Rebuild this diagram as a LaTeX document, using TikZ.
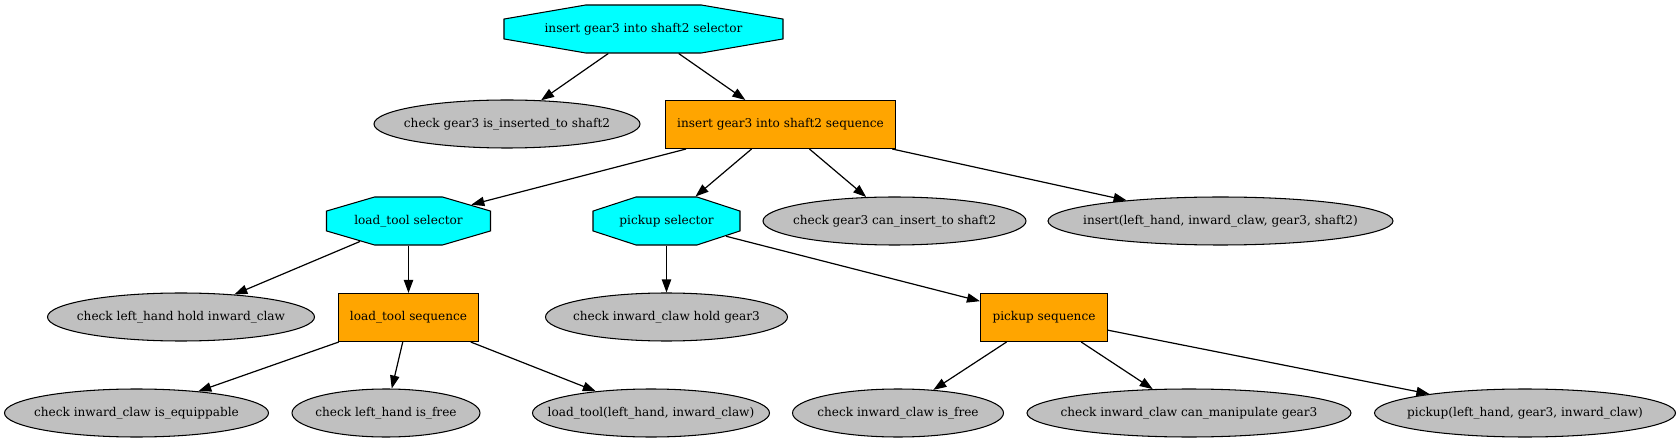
\documentclass[tikz,border=0pt]{standalone}
\usepackage{fontspec}
\setmainfont{DejaVu Serif}
\usetikzlibrary{shapes.geometric,arrows.meta}
\definecolor{selcyan}{RGB}{0,255,255}
\definecolor{seqorange}{RGB}{255,165,0}
\definecolor{condgray}{RGB}{192,192,192}
\tikzset{
  base/.style={line width=1.05pt, inner sep=0pt, font=\fontsize{12.1pt}{14pt}\selectfont},
  octshape/.style={base, draw, fill=selcyan, regular polygon, regular polygon sides=8, minimum size=51.96pt},
  lbl/.style={inner sep=0pt, font=\fontsize{12.1pt}{14pt}\selectfont},
  seqbox/.style={base, draw, fill=seqorange, rectangle, minimum height=48pt},
  cond/.style={base, draw, fill=condgray, ellipse, minimum height=48pt},
  link/.style={line width=1.2pt, -{Triangle[length=13pt,width=9.3pt]}},
}
\newcommand\octnode[5]{%
  \begin{scope}[shift={(#2,#3)}, xscale=#4/48]
    \node[octshape, transform shape] (#1) at (0,0) {};
  \end{scope}
  \node[lbl] (#1-t) at (#1.center) {#5};
}
\newcommand\zw[1]{\makebox[0pt][c]{#1}}
\begin{document}
\begin{tikzpicture}[x=1pt,y=-1pt]
\useasboundingbox (0,0) rectangle (1680,443);
% level 1
\octnode{root}{643.5}{29}{279}{insert gear3 into shaft2 selector}
% level 2
\node[cond, minimum width=266pt] (chk1) at (507,124) {\zw{check gear3 is\_inserted\_to shaft2}};
\node[seqbox, minimum width=230pt] (seq1) at (780.5,124.5) {insert gear3 into shaft2 sequence};
% level 3
\octnode{lts}{408.5}{221}{164}{load\_tool selector}
\octnode{pks}{666.5}{221}{147}{pickup selector}
\node[cond, minimum width=263pt] (chk2) at (894.5,221) {\zw{check gear3 can\_insert\_to shaft2}};
\node[cond, minimum width=345pt] (ins) at (1220.5,221) {\zw{insert(left\_hand, inward\_claw, gear3, shaft2)}};
% level 4
\node[cond, minimum width=267pt] (chk3) at (181,317) {\zw{check left\_hand hold inward\_claw}};
\node[seqbox, minimum width=140pt] (lseq) at (408.5,317.5) {load\_tool sequence};
\node[cond, minimum width=242pt] (chk4) at (666.5,317) {\zw{check inward\_claw hold gear3}};
\node[seqbox, minimum width=127pt] (pseq) at (1044,317.5) {pickup sequence};
% level 5
\node[cond, minimum width=264pt] (e1) at (136.5,413) {\zw{check inward\_claw is\_equippable}};
\node[cond, minimum width=188pt] (e2) at (386,413) {\zw{check left\_hand is\_free}};
\node[cond, minimum width=237pt] (e3) at (651,413) {\zw{load\_tool(left\_hand, inward\_claw)}};
\node[cond, minimum width=211pt] (e4) at (898,413) {\zw{check inward\_claw is\_free}};
\node[cond, minimum width=324pt] (e5) at (1189,413) {\zw{check inward\_claw can\_manipulate gear3}};
\node[cond, minimum width=301pt] (e6) at (1525,413) {\zw{pickup(left\_hand, gear3, inward\_claw)}};
% edges
\draw[link] (root) -- (chk1);
\draw[link] (root) -- (seq1);
\draw[link] (seq1) -- (lts);
\draw[link] (seq1) -- (pks);
\draw[link] (seq1) -- (chk2);
\draw[link] (seq1) -- (ins);
\draw[link] (lts) -- (chk3);
\draw[link] (lts) -- (lseq);
\draw[link] (pks) -- (chk4);
\draw[link] (pks) -- (pseq);
\draw[link] (lseq) -- (e1);
\draw[link] (lseq) -- (e2);
\draw[link] (lseq) -- (e3);
\draw[link] (pseq) -- (e4);
\draw[link] (pseq) -- (e5);
\draw[link] (pseq) -- (e6);
\end{tikzpicture}
\end{document}
